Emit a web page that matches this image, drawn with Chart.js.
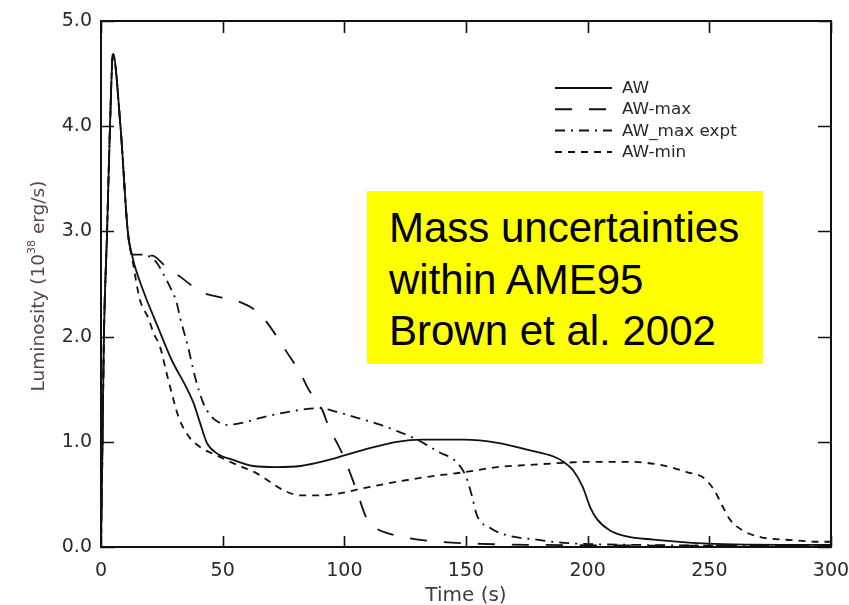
<!DOCTYPE html>
<html>
<head>
<meta charset="utf-8">
<script src="https://cdn.jsdelivr.net/npm/chart.js@4.4.1/dist/chart.umd.min.js"></script>
<style>
  body { margin: 0; background: #fff; }
  #wrap { position: relative; width: 849px; height: 605px; overflow: hidden; }
  #note {
    position: absolute; left: 367px; top: 191px; width: 374px; height: 162px;
    padding: 11px 0 0 22px; background: #ffff00; color: #000;
    font-family: "Liberation Sans", Arial, sans-serif; font-size: 42px; line-height: 51.5px;
  }
</style>
</head>
<body>
<div id="wrap">
  <canvas id="myChart" width="849" height="605"></canvas>
  <div id="note">Mass uncertainties<br>within AME95<br>Brown et al. 2002</div>
</div>
<script>
// light curves, time in s, luminosity in 1e38 erg/s
var awTime = [0, 0.5, 1.2, 2.5, 3.7, 4.9, 8, 11, 13, 17.3, 23.4, 29, 35, 38, 40.7, 43.5, 47.6, 54, 62.5, 72, 82, 94, 100, 110.5, 121.6, 132, 149, 163, 176, 186, 190, 194, 198, 201, 204, 209, 216, 227, 243, 260, 300];
var awLum = [0, 0.8, 2.0, 3.0, 4.0, 4.69, 4.0, 3.0, 2.75, 2.44, 2.09, 1.78, 1.52, 1.37, 1.18, 0.99, 0.89, 0.83, 0.77, 0.76, 0.77, 0.83, 0.87, 0.94, 1.0, 1.02, 1.02, 0.99, 0.92, 0.86, 0.81, 0.73, 0.57, 0.38, 0.26, 0.16, 0.10, 0.07, 0.04, 0.025, 0.02];

var maxTime = [0, 0.5, 1.2, 2.5, 3.7, 4.9, 8, 11, 13, 17, 21, 26, 32.5, 41.5, 47.7, 57, 65, 72, 76.4, 81.8, 85, 91, 93.3, 99.5, 105, 109, 113, 118, 126, 139, 156, 180, 300];
var maxLum = [0, 0.8, 2.0, 3.0, 4.0, 4.69, 4.0, 3.0, 2.78, 2.77, 2.77, 2.68, 2.57, 2.42, 2.38, 2.33, 2.22, 2.01, 1.85, 1.66, 1.51, 1.30, 1.16, 0.87, 0.54, 0.28, 0.18, 0.13, 0.086, 0.05, 0.03, 0.02, 0.01];

var exptTime = [0, 0.5, 1.2, 2.5, 3.7, 4.9, 8, 11, 13, 17, 20, 23, 25.5, 28.4, 31, 32.5, 35.8, 38.6, 42, 45, 48, 51.7, 58, 66, 76, 84, 90, 96, 102, 115, 123, 130, 139, 146, 150, 152.5, 154.5, 160, 167, 179, 190, 220, 300];
var exptLum = [0, 0.8, 2.0, 3.0, 4.0, 4.69, 4.0, 3.0, 2.78, 2.78, 2.76, 2.70, 2.6, 2.47, 2.33, 2.18, 1.90, 1.62, 1.37, 1.25, 1.19, 1.16, 1.18, 1.23, 1.28, 1.31, 1.32, 1.29, 1.25, 1.16, 1.09, 1.02, 0.9, 0.81, 0.67, 0.48, 0.30, 0.18, 0.11, 0.07, 0.04, 0.02, 0.01];

var minTime = [0, 0.5, 1.2, 2.5, 3.7, 4.9, 8, 11, 13, 16, 19.4, 21.5, 24.3, 27, 29, 31.8, 35.8, 40.7, 47.6, 54, 64, 75, 82, 90, 98, 108, 121.6, 135, 149, 163, 176, 190, 202, 216, 230, 241, 247.5, 252, 255.6, 258.5, 263.5, 271, 284, 295.5, 300];
var minLum = [0, 0.8, 2.0, 3.0, 4.0, 4.69, 4.0, 3.0, 2.72, 2.35, 2.18, 2.04, 1.9, 1.65, 1.47, 1.24, 1.06, 0.95, 0.87, 0.80, 0.70, 0.54, 0.49, 0.49, 0.51, 0.56, 0.62, 0.67, 0.71, 0.76, 0.78, 0.80, 0.81, 0.81, 0.78, 0.71, 0.66, 0.54, 0.38, 0.26, 0.16, 0.095, 0.065, 0.05, 0.05];

var seriesNames = ['AW', 'AW-max', 'AW_max expt', 'AW-min'];
var xTicks = [0, 50, 100, 150, 200, 250, 300];
var yTicks = [0, 1, 2, 3, 4, 5];

function toPoints(t, l) {
  return t.map(function (v, i) { return { x: v, y: l[i] }; });
}

function lineSet(label, t, l, dash) {
  return {
    label: label,
    data: toPoints(t, l),
    borderColor: '#111',
    borderWidth: 1.8,
    borderDash: dash,
    pointRadius: 0,
    fill: false,
    cubicInterpolationMode: 'monotone'
  };
}

// stretched text helper, used for titles and legend
function drawText(ctx, text, x, y, sx) {
  ctx.save();
  ctx.translate(x, y);
  ctx.scale(sx, 1);
  ctx.fillText(text, 0, 0);
  ctx.restore();
}

// no extra room for overhanging tick labels, the frame is fixed
function noPad(s) {
  s.paddingLeft = 0; s.paddingRight = 0; s.paddingTop = 0; s.paddingBottom = 0;
}

var framePlugin = {
  id: 'frame',
  afterDraw: function (chart) {
    var ctx = chart.ctx;
    var a = chart.chartArea;
    var xs = chart.scales.x, ys = chart.scales.y;
    ctx.save();
    ctx.strokeStyle = '#111';
    ctx.lineWidth = 2;
    ctx.setLineDash([]);
    ctx.strokeRect(a.left, a.top, a.right - a.left, a.bottom - a.top);

    // inward tick marks on all four sides
    ctx.lineWidth = 1.6;
    ctx.beginPath();
    xTicks.forEach(function (v) {
      var px = Math.round(xs.getPixelForValue(v)) + 0.5;
      ctx.moveTo(px, a.bottom); ctx.lineTo(px, a.bottom - 11);
      ctx.moveTo(px, a.top); ctx.lineTo(px, a.top + 12);
    });
    yTicks.forEach(function (v) {
      var py = Math.round(ys.getPixelForValue(v)) + 0.5;
      ctx.moveTo(a.left, py); ctx.lineTo(a.left + 13, py);
      ctx.moveTo(a.right, py); ctx.lineTo(a.right - 13, py);
    });
    ctx.stroke();

    // axis titles
    ctx.fillStyle = '#4a3a3a';
    ctx.font = '20px "DejaVu Sans"';
    ctx.textAlign = 'center';
    ctx.textBaseline = 'alphabetic';
    drawText(ctx, 'Time (s)', 466, 601, 1);

    ctx.fillStyle = '#5e4448';
    ctx.translate(44, 286);
    ctx.rotate(-Math.PI / 2);
    var big = '18.5px "DejaVu Sans"', small = '11px "DejaVu Sans"';
    ctx.textAlign = 'left';
    ctx.font = big;
    var p1 = 'Luminosity (10', p3 = ' erg/s)';
    var w1 = ctx.measureText(p1).width, w3 = ctx.measureText(p3).width;
    ctx.font = small;
    var w2 = ctx.measureText('38').width;
    var x0 = -(w1 + w2 + w3) / 2;
    ctx.font = big;
    ctx.fillText(p1, x0, 0);
    ctx.font = small;
    ctx.fillText('38', x0 + w1, -9);
    ctx.font = big;
    ctx.fillText(p3, x0 + w1 + w2, 0);
    ctx.restore();

    // legend
    ctx.save();
    chart.data.datasets.forEach(function (ds, i) {
      var y = 88 + i * 21.3;
      ctx.strokeStyle = '#111';
      ctx.lineWidth = 2;
      ctx.setLineDash(ds.borderDash || []);
      ctx.beginPath();
      ctx.moveTo(555, y); ctx.lineTo(612, y);
      ctx.stroke();
      ctx.fillStyle = '#2a2a2a';
      ctx.font = '16px "DejaVu Sans"';
      ctx.textAlign = 'left';
      ctx.textBaseline = 'middle';
      drawText(ctx, ds.label, 622, y + 1, 1.05);
    });
    ctx.restore();
  }
};

var ctx = document.getElementById('myChart');
var chartLine = new Chart(ctx, {
  type: 'line',
  data: {
    datasets: [
      lineSet(seriesNames[0], awTime, awLum, []),
      lineSet(seriesNames[1], maxTime, maxLum, [17, 17]),
      lineSet(seriesNames[2], exptTime, exptLum, [10, 6, 2, 6]),
      lineSet(seriesNames[3], minTime, minLum, [7, 6])
    ]
  },
  options: {
    responsive: false,
    animation: false,
    layout: { padding: { left: 0, right: 18, top: 21, bottom: 0 } },
    plugins: { legend: { display: false }, tooltip: { enabled: false } },
    scales: {
      x: {
        type: 'linear', min: 0, max: 300,
        afterFit: function (s) { s.height = 58; noPad(s); },
        afterBuildTicks: function (s) { s.ticks = xTicks.map(function (v) { return { value: v }; }); },
        grid: { display: false, drawTicks: false },
        border: { display: false },
        ticks: { color: '#2a2a2a', font: { family: 'DejaVu Sans', size: 19 }, padding: 13, maxRotation: 0 }
      },
      y: {
        min: 0, max: 5,
        afterFit: function (s) { s.width = 101; noPad(s); },
        afterBuildTicks: function (s) { s.ticks = yTicks.map(function (v) { return { value: v }; }); },
        grid: { display: false, drawTicks: false },
        border: { display: false },
        ticks: {
          color: '#2a2a2a', font: { family: 'DejaVu Sans', size: 19 }, padding: 9,
          callback: function (v) { return v.toFixed(1); }
        }
      }
    }
  },
  plugins: [framePlugin]
});
</script>
</body>
</html>
